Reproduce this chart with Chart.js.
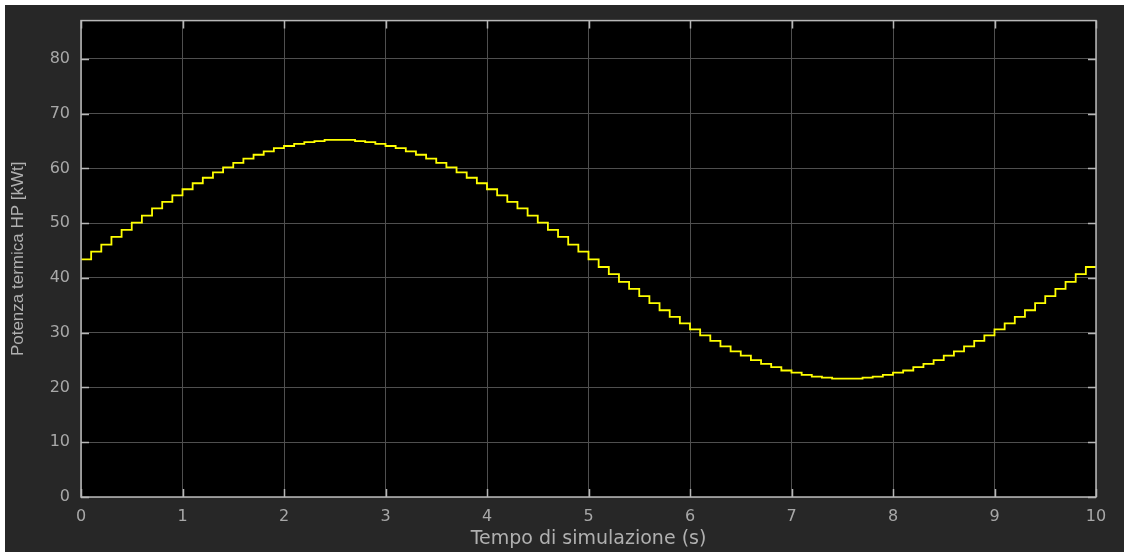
<!DOCTYPE html>
<html>
<head>
<meta charset="utf-8">
<script src="https://cdn.jsdelivr.net/npm/chart.js@4/dist/chart.umd.min.js"></script>
<style>
  html, body { margin: 0; padding: 0; background: #ffffff; }
  #wrap { position: absolute; left: 0; top: 0; width: 1124px; height: 556px; }
</style>
</head>
<body>
<div id="wrap"><canvas id="c" width="1124" height="556"></canvas></div>
<script>
// sample time step of the held signal (s)
const STEP = 0.1;
// potenza termica, one value per 0.1 s sample (0 .. 9.9 s)
const power = [
  43.4, 44.8, 46.1, 47.5, 48.8, 50.1, 51.4, 52.7, 53.9, 55.1,
  56.2, 57.3, 58.3, 59.3, 60.2, 61.0, 61.8, 62.5, 63.1, 63.7,
  64.1, 64.5, 64.8, 65.0, 65.2, 65.2, 65.2, 65.0, 64.8, 64.5,
  64.1, 63.7, 63.1, 62.5, 61.8, 61.0, 60.2, 59.3, 58.3, 57.3,
  56.2, 55.1, 53.9, 52.7, 51.4, 50.1, 48.8, 47.5, 46.1, 44.8,
  43.4, 42.0, 40.7, 39.3, 38.0, 36.7, 35.4, 34.1, 32.9, 31.7,
  30.6, 29.5, 28.5, 27.5, 26.6, 25.8, 25.0, 24.3, 23.7, 23.1,
  22.7, 22.3, 22.0, 21.8, 21.6, 21.6, 21.6, 21.8, 22.0, 22.3,
  22.7, 23.1, 23.7, 24.3, 25.0, 25.8, 26.6, 27.5, 28.5, 29.5,
  30.6, 31.7, 32.9, 34.1, 35.4, 36.7, 38.0, 39.3, 40.7, 42.0
];
const xTicks = [0, 1, 2, 3, 4, 5, 6, 7, 8, 9, 10];
const yTicks = [0, 10, 20, 30, 40, 50, 60, 70, 80];
const X_MAX = 10;
const Y_MAX = 87;

const TICK_FONT = "DejaVu Sans, Liberation Sans, sans-serif";
const TITLE_FONT = "Liberation Sans, Arial, sans-serif";

// zero-order hold: last sample held until the end of the run
const points = power.map((v, i) => ({ x: i * STEP, y: v }));
points.push({ x: X_MAX, y: power[power.length - 1] });

const scopeFrame = {
  id: "scopeFrame",
  beforeDraw(chart) {
    const ctx = chart.ctx;
    const a = chart.chartArea;
    ctx.save();
    ctx.fillStyle = "#ffffff";
    ctx.fillRect(0, 0, chart.width, chart.height);
    ctx.fillStyle = "#272727";
    ctx.fillRect(5, 5, chart.width - 5, chart.height - 9);
    ctx.fillStyle = "#000000";
    ctx.fillRect(a.left, a.top, a.right - a.left, a.bottom - a.top);
    ctx.restore();
  },
  afterDatasetsDraw(chart) {
    const ctx = chart.ctx;
    const a = chart.chartArea;
    const xs = chart.scales.x;
    const ys = chart.scales.y;
    ctx.save();
    ctx.strokeStyle = "#b8b8b8";
    ctx.lineWidth = 1.5;
    ctx.beginPath();
    xTicks.forEach((t) => {
      const px = Math.round(xs.getPixelForValue(t)) + 0.5;
      ctx.moveTo(px, a.bottom); ctx.lineTo(px, a.bottom - 8);
      ctx.moveTo(px, a.top); ctx.lineTo(px, a.top + 8);
    });
    yTicks.forEach((t) => {
      const py = Math.round(ys.getPixelForValue(t)) + 0.5;
      ctx.moveTo(a.left, py); ctx.lineTo(a.left + 8, py);
      ctx.moveTo(a.right, py); ctx.lineTo(a.right - 8, py);
    });
    ctx.stroke();
    ctx.strokeRect(a.left, a.top, a.right - a.left, a.bottom - a.top);
    ctx.restore();
  }
};

new Chart(document.getElementById("c"), {
  type: "line",
  data: {
    datasets: [{
      data: points,
      borderColor: "#ffff00",
      borderWidth: 1.8,
      stepped: true,
      pointRadius: 0,
      fill: false
    }]
  },
  options: {
    responsive: false,
    animation: false,
    events: [],
    layout: { padding: { left: 0, right: 28, top: 18, bottom: 0 } },
    plugins: { legend: { display: false }, tooltip: { enabled: false } },
    scales: {
      x: {
        type: "linear",
        min: 0,
        max: X_MAX,
        afterBuildTicks: (s) => { s.ticks = xTicks.map((v) => ({ value: v })); },
        afterFit: (s) => { s.height = 59; },
        grid: { color: "#4f4f4f", lineWidth: 1, drawTicks: false },
        border: { display: false },
        ticks: { color: "#a8a8a8", padding: 10, font: { family: TICK_FONT, size: 16 } },
        title: {
          display: true,
          text: "Tempo di simulazione (s)",
          color: "#b0b0b0",
          padding: { top: 0, bottom: 6 },
          font: { family: TICK_FONT, size: 19 }
        }
      },
      y: {
        min: 0,
        max: Y_MAX,
        afterBuildTicks: (s) => { s.ticks = yTicks.map((v) => ({ value: v })); },
        afterFit: (s) => { s.width = 81; },
        grid: { color: "#4f4f4f", lineWidth: 1, drawTicks: false },
        border: { display: false },
        ticks: { color: "#a8a8a8", padding: 11, font: { family: TICK_FONT, size: 16 } },
        title: {
          display: true,
          text: "Potenza termica HP [kWt]",
          color: "#b0b0b0",
          padding: { top: 8, bottom: 0 },
          font: { family: TITLE_FONT, size: 17 }
        }
      }
    }
  },
  plugins: [scopeFrame]
});
</script>
</body>
</html>
